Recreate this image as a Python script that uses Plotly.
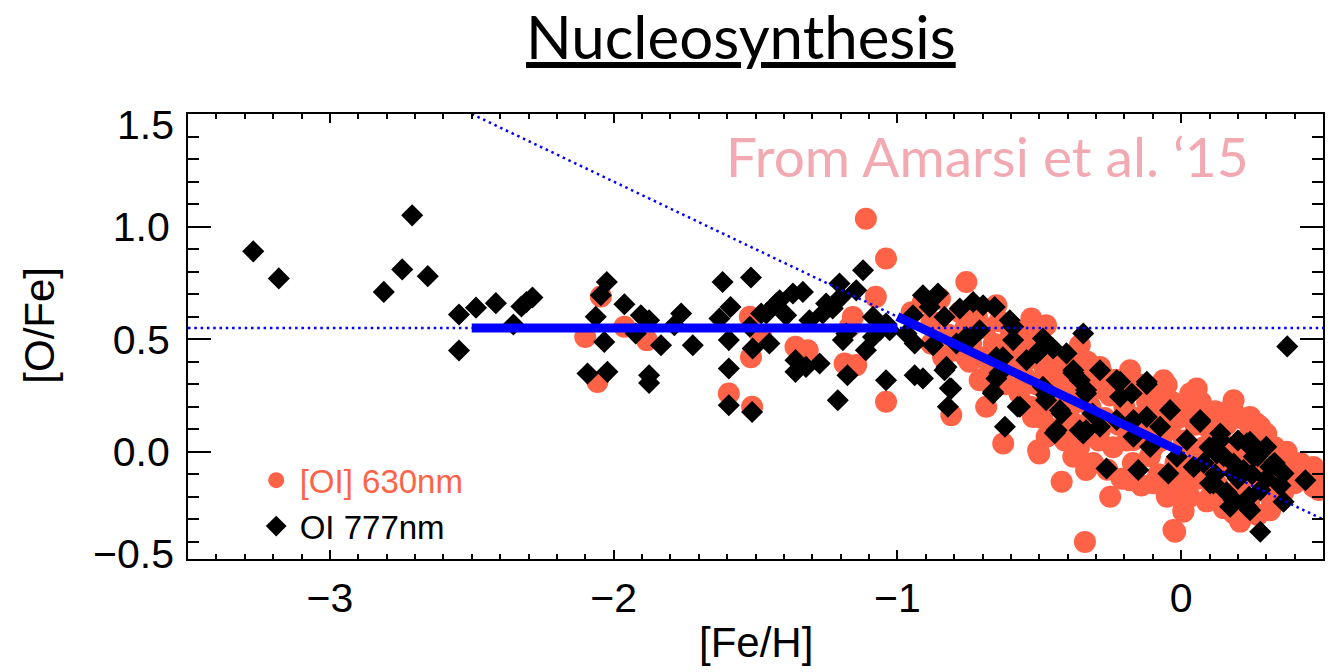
import plotly.graph_objects as go

# ---------------- data ----------------
# [OI] 630nm (red circles): [Fe/H], [O/Fe]
red_feh = [
    -2.045, -2.100, -2.057, -1.962, -1.883, -1.594, -1.520, -1.480, -1.516, -1.512,
    -1.359, -1.316, -1.186, -1.145, -1.111, -1.040, -1.076, -1.040, -1.168, -1.157,
    -0.910, -0.757, -0.651, -0.810, -0.746, -0.698, -0.627, -0.504, -0.545, -0.528,
    -0.476, -0.357, -0.286, -0.286, -0.404, -0.339, -0.027, -0.250, -0.421, -0.500,
    0.008, -0.180, -0.062, 0.032, 0.044, 0.008, -0.062, -0.021, 0.008, 0.208,
    0.485, 0.055, 0.185, 0.265, 0.372, 0.466, 0.243, -0.051, 0.467, 0.496,
    0.279, 0.350, 0.408, 0.185, 0.314, -0.710, -0.757, -0.839, -0.687, -0.522,
    -0.380, -0.335, -0.180, -0.098, -0.051, 0.032, 0.102, -0.474, -0.168, -0.098,
    -0.950, -0.880, -0.850, -0.820, -0.800, -0.780, -0.760, -0.740, -0.720, -0.700,
    -0.690, -0.670, -0.660, -0.640, -0.620, -0.610, -0.600, -0.580, -0.570, -0.560,
    -0.550, -0.540, -0.530, -0.520, -0.510, -0.500, -0.490, -0.480, -0.470, -0.460,
    -0.450, -0.440, -0.430, -0.420, -0.410, -0.400, -0.390, -0.380, -0.370, -0.360,
    -0.350, -0.340, -0.330, -0.320, -0.310, -0.300, -0.290, -0.280, -0.270, -0.260,
    -0.250, -0.240, -0.230, -0.220, -0.210, -0.200, -0.190, -0.180, -0.170, -0.160,
    -0.150, -0.140, -0.130, -0.120, -0.110, -0.100, -0.090, -0.080, -0.070, -0.060,
    -0.050, -0.040, -0.030, -0.020, -0.010, 0.000, 0.010, 0.020, 0.030, 0.040,
    0.050, 0.060, 0.070, 0.080, 0.090, 0.100, 0.110, 0.120, 0.130, 0.140,
    0.150, 0.160, 0.170, 0.180, 0.190, 0.200, 0.210, 0.220, 0.230, 0.240,
    0.250, 0.260, 0.270, 0.280, 0.290, 0.300, 0.310, 0.320, 0.330, 0.340,
    0.350, 0.360, 0.380, 0.400, 0.420, 0.440, 0.460, 0.480, 0.500, -0.880,
]
red_ofe = [
    0.690, 0.510, 0.310, 0.555, 0.496, 0.259, 0.600, 0.510, 0.420, 0.200,
    0.466, 0.451, 0.392, 0.385, 1.035, 0.858, 0.688, 0.222, 0.555, 0.599,
    0.665, 0.754, 0.651, 0.163, 0.400, 0.326, 0.037, 0.007, 0.407, 0.592,
    0.562, 0.473, 0.096, 0.377, 0.067, -0.400, -0.347, -0.200, -0.133, -0.007,
    -0.259, 0.362, 0.318, 0.259, 0.170, -0.185, -0.140, -0.355, -0.266, -0.310,
    -0.170, 0.281, 0.229, 0.126, 0.000, -0.067, 0.155, 0.296, -0.155, -0.140,
    0.111, -0.022, -0.081, -0.273, -0.259, 0.318, 0.420, 0.420, 0.200, 0.155,
    -0.022, -0.081, -0.126, -0.140, -0.185, -0.126, -0.200, 0.067, 0.052, 0.022,
    0.620, 0.580, 0.680, 0.520, 0.450, 0.620, 0.550, 0.480, 0.600, 0.420,
    0.550, 0.360, 0.480, 0.580, 0.300, 0.440, 0.520, 0.380, 0.260, 0.470,
    0.330, 0.550, 0.200, 0.420, 0.300, 0.500, 0.150, 0.370, 0.250, 0.450,
    0.100, 0.320, 0.200, 0.400, 0.050, 0.280, 0.140, 0.420, 0.220, 0.020,
    0.330, 0.120, 0.400, 0.200, -0.050, 0.280, 0.050, 0.350, 0.150, -0.080,
    0.250, 0.020, 0.320, 0.120, -0.120, 0.200, 0.050, 0.280, -0.050, 0.150,
    0.300, -0.150, 0.080, 0.220, -0.020, 0.140, 0.260, -0.100, 0.050, 0.180,
    -0.200, 0.100, 0.220, -0.050, 0.150, -0.120, 0.050, 0.200, -0.200, -0.020,
    0.120, -0.120, 0.220, 0.020, -0.220, 0.100, -0.080, 0.180, -0.150, 0.050,
    -0.250, 0.120, -0.050, 0.200, -0.180, 0.000, 0.150, -0.120, 0.060, -0.220,
    0.120, -0.050, -0.280, 0.050, -0.150, 0.080, -0.080, -0.220, 0.020, -0.120,
    -0.030, -0.180, -0.080, -0.140, -0.050, -0.120, -0.100, -0.160, -0.120, 0.480,
]

# OI 777nm (black diamonds): [Fe/H], [O/Fe]
blk_feh = [
    -3.270, -3.180, -2.710, -2.810, -2.745, -2.655, -2.545, -2.545, -2.485, -2.415,
    -2.353, -2.325, -2.286, -2.307, -2.024, -2.045, -1.962, -2.063, -2.033, -1.904,
    -1.875, -1.922, -1.833, -1.762, -1.786, -1.721, -2.092, -2.022, -1.875, -1.875,
    -1.616, -1.516, -1.588, -1.627, -1.520, -1.594, -1.462, -1.451, -1.510, -1.594,
    -1.594, -1.512, -1.415, -1.368, -1.333, -1.359, -1.322, -1.274, -1.359, -1.251,
    -1.204, -1.121, -1.198, -1.145, -1.192, -1.176, -1.111, -1.210, -1.040, -1.062,
    -1.427, -1.480, -1.392, -1.310, -1.263, -1.228, -1.086, -1.027, -1.180, -1.086,
    -0.910, -0.857, -0.886, -0.834, -0.780, -0.733, -0.698, -0.657, -1.040, -0.945,
    -0.968, -0.939, -0.874, -0.792, -0.710, -0.592, -0.604, -0.345, -0.487, -0.939,
    -0.910, -0.834, -0.810, -0.822, -0.757, -0.651, -0.663, -0.628, -0.568, -0.621,
    -0.451, -0.509, -0.404, -0.476, -0.427, -0.439, -0.380, -0.357, -0.335, -0.312,
    -0.335, -0.576, -0.263, -0.151, -0.045, -0.121, -0.039, -0.215, -0.174, -0.121,
    -0.074, 0.020, -0.345, -0.286, -0.227, -0.168, -0.109, -0.015, 0.279, 0.438,
    0.361, 0.300, 0.243, 0.138, 0.067, 0.114, 0.173, 0.232, 0.279, 0.314,
    0.361, 0.185, 0.126, 0.220, 0.044, 0.374, 0.100, 0.150, 0.200, 0.250,
    0.160, 0.270, 0.300, 0.080, 0.200, 0.330, 0.240, 0.120, 0.350, -0.827,
    -0.815, -0.663, -0.640, -0.445, -0.476, -0.421, -0.357, -0.121, 0.067, 0.138,
    0.232, 0.102, 0.185, 0.243, 0.185, 0.326, 0.256, -0.168, -0.215, -0.335,
    -0.286, -0.380, -0.487, -0.545, -0.498, -0.592, -0.651, -0.746, -0.227,
]
blk_ofe = [
    0.890, 0.770, 1.050, 0.710, 0.810, 0.780, 0.610, 0.450, 0.640, 0.660,
    0.565, 0.645, 0.685, 0.665, 0.754, 0.695, 0.655, 0.600, 0.488, 0.606,
    0.584, 0.525, 0.473, 0.614, 0.562, 0.473, 0.348, 0.355, 0.340, 0.306,
    0.754, 0.774, 0.643, 0.592, 0.555, 0.496, 0.614, 0.481, 0.459, 0.370,
    0.207, 0.177, 0.673, 0.703, 0.710, 0.407, 0.377, 0.392, 0.355, 0.658,
    0.747, 0.806, 0.688, 0.717, 0.496, 0.340, 0.451, 0.229, 0.318, 0.540,
    0.658, 0.614, 0.606, 0.584, 0.614, 0.636, 0.599, 0.540, 0.525, 0.510,
    0.695, 0.703, 0.643, 0.599, 0.636, 0.665, 0.651, 0.643, 0.570, 0.606,
    0.525, 0.481, 0.473, 0.481, 0.540, 0.555, 0.584, 0.525, 0.503, 0.340,
    0.326, 0.362, 0.281, 0.200, 0.510, 0.326, 0.259, 0.420, 0.200, 0.111,
    0.459, 0.437, 0.437, 0.252, 0.185, 0.096, 0.362, 0.318, 0.259, 0.170,
    0.096, 0.200, -0.074, -0.081, -0.096, 0.311, 0.185, 0.311, 0.259, 0.155,
    0.111, 0.052, 0.081, 0.111, 0.141, 0.067, 0.022, -0.022, -0.355, -0.126,
    -0.222, 0.022, 0.044, 0.081, 0.141, -0.140, -0.244, -0.244, -0.170, -0.067,
    -0.096, -0.052, -0.007, -0.081, -0.067, 0.468, 0.020, -0.020, -0.120, -0.100,
    -0.180, -0.020, -0.120, -0.050, 0.050, -0.050, -0.200, -0.100, -0.150, 0.377,
    0.282, 0.266, 0.350, 0.083, 0.229, 0.170, 0.096, 0.300, 0.133, 0.052,
    0.038, -0.140, -0.214, -0.259, -0.096, -0.052, -0.022, 0.141, 0.244, 0.274,
    0.362, 0.350, 0.289, 0.407, 0.451, 0.496, 0.420, 0.496, 0.318,
]

# fit lines
flat_x = [-2.5, -1.0]
flat_y = [0.55, 0.55]
slope_x = [-1.0, 0.0]
slope_y = [0.60, 0.00]
dot_h_x = [-3.5, 0.5]
dot_h_y = [0.55, 0.55]
dot_d_x = [-2.5, 0.5]
dot_d_y = [1.50, -0.30]

RED = "#FF6347"
BLUE = "#0000FF"
TICKFONT = dict(family="Liberation Sans, Arial, sans-serif", size=41, color="black")

fig = go.Figure()
fig.add_trace(go.Scatter(
    x=red_feh, y=red_ofe, mode="markers", name="<span style='color:#FF6347'>[OI] 630nm</span>",
    marker=dict(symbol="circle", size=22, color=RED, line=dict(width=0)),
))
fig.add_trace(go.Scatter(
    x=blk_feh, y=blk_ofe, mode="markers", name="OI 777nm",
    marker=dict(symbol="diamond", size=17, color="black", line=dict(width=0)),
))
fig.add_trace(go.Scatter(x=dot_h_x, y=dot_h_y, mode="lines", showlegend=False,
                         line=dict(color=BLUE, width=2.5, dash="2.5px,3.8px")))
fig.add_trace(go.Scatter(x=dot_d_x, y=dot_d_y, mode="lines", showlegend=False,
                         line=dict(color=BLUE, width=2.5, dash="2.5px,3.8px")))
fig.add_trace(go.Scatter(x=flat_x, y=flat_y, mode="lines", showlegend=False,
                         line=dict(color=BLUE, width=9)))
fig.add_trace(go.Scatter(x=slope_x, y=slope_y, mode="lines", showlegend=False,
                         line=dict(color=BLUE, width=9)))

fig.update_xaxes(
    range=[-3.5, 0.5], showgrid=False, zeroline=False,
    showline=True, linecolor="black", linewidth=2, mirror="allticks",
    ticks="inside", ticklen=9, tickwidth=2, tickcolor="black",
    tickvals=[-3, -2, -1, 0], ticktext=["\u22123", "\u22122", "\u22121", "0"],
    tickfont=TICKFONT, ticklabelstandoff=2,
    minor=dict(ticks="inside", ticklen=5, tickwidth=2, tickcolor="black", dtick=0.1, showgrid=False),
)
fig.update_yaxes(
    range=[-0.476, 1.5], showgrid=False, zeroline=False,
    showline=True, linecolor="black", linewidth=2, mirror="allticks",
    ticks="inside", ticklen=23, tickwidth=2, tickcolor="black",
    tickvals=[0.0, 0.5, 1.0, 1.5], ticktext=["0.0", "0.5", "1.0", ""],
    tickfont=TICKFONT, ticklabelstandoff=8,
    minor=dict(ticks="inside", ticklen=11, tickwidth=2, tickcolor="black", dtick=0.1, showgrid=False),
)

annos = [
    dict(text="<u>Nucleosynthesis</u>", xref="paper", yref="paper", x=0.487, y=1.176,
         xanchor="center", yanchor="middle", showarrow=False,
         font=dict(family="Lato, sans-serif", size=60, color="black")),
    dict(text="From Amarsi et al. \u201815", xref="paper", yref="paper", x=0.937, y=0.906,
         xanchor="right", yanchor="middle", showarrow=False,
         font=dict(family="Lato, sans-serif", size=55, color="#F2A9B2")),
    dict(text="[Fe/H]", xref="paper", yref="paper", x=0.5, y=-0.188,
         xanchor="center", yanchor="middle", showarrow=False,
         font=dict(family="Liberation Sans, Arial, sans-serif", size=42, color="black")),
    dict(text="[O/Fe]", xref="paper", yref="paper", x=-0.131, y=0.525, textangle=-90,
         xanchor="center", yanchor="middle", showarrow=False,
         font=dict(family="Liberation Sans, Arial, sans-serif", size=42, color="black")),
    dict(text="1.5", xref="paper", yref="y", x=-0.011, y=1.45,
         xanchor="right", yanchor="middle", showarrow=False, font=TICKFONT),
    dict(text="\u22120.5", xref="paper", yref="y", x=-0.011, y=-0.455,
         xanchor="right", yanchor="middle", showarrow=False, font=TICKFONT),
]

fig.update_layout(
    width=1342, height=672,
    margin=dict(l=188, r=19, t=114, b=113),
    paper_bgcolor="white", plot_bgcolor="white",
    annotations=annos,
    showlegend=True,
    legend=dict(x=0.057, y=0.24, xanchor="left", yanchor="top",
                bgcolor="rgba(0,0,0,0)", borderwidth=0,
                itemwidth=37,
                font=dict(family="Liberation Sans, Arial, sans-serif", size=33, color="black"),
                itemsizing="trace"),
)

fig.write_html("out.html")
